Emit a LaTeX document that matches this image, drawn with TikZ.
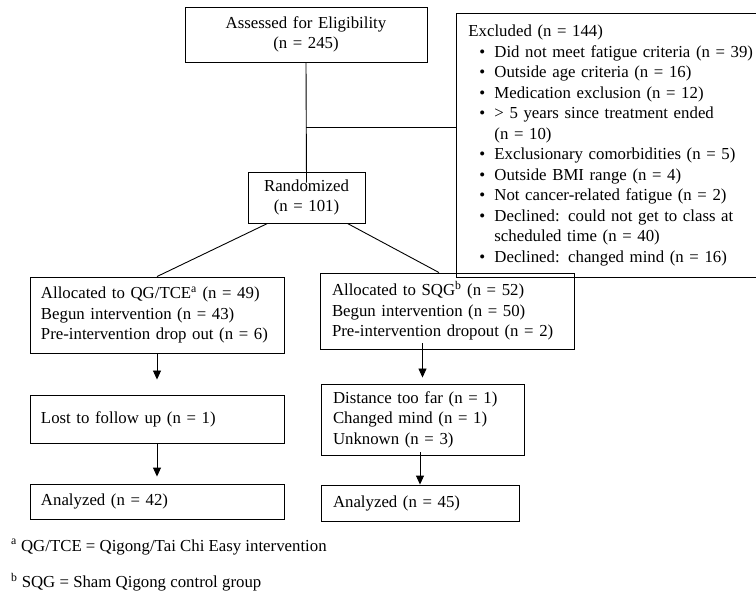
\documentclass[tikz,border=0pt]{standalone}
\usepackage{fontspec}
\setmainfont{Liberation Serif}
\usetikzlibrary{positioning,arrows.meta,calc}
\newcommand{\exitem}{\hspace*{11pt}\makebox[15pt][l]{\textbullet}}
\newcommand{\exmore}{\hspace*{26pt}}

\begin{document}
\begin{tikzpicture}[x=1pt,y=-1pt,font=\fontsize{16.8}{20.5}\selectfont,
  box/.style={draw,line width=0.9pt,align=left,inner xsep=11pt,inner ysep=0pt},
  cbox/.style={box,align=center},
  arr/.style={draw,line width=0.9pt,-{Triangle[width=8pt,length=9pt]}},
  link/.style={draw,line width=0.9pt}]
\useasboundingbox (0,0) rectangle (756,596);
\clip (0,0) rectangle (756,596);
\node[cbox,text width=220pt,minimum height=55pt] (assess) at (306,34.5) {Assessed for Eligibility\\(n = 245)};
\node[cbox,text width=95pt,minimum height=51pt] (rand) at (306.5,197.5) {Randomized\\(n = 101)};
\node[box,anchor=north west,inner xsep=12pt,text width=292pt,minimum height=264pt] (excl) at (456,13)
  {Excluded (n = 144)\\
   \exitem Did not meet fatigue criteria (n = 39)\\
   \exitem Outside age criteria (n = 16)\\
   \exitem Medication exclusion (n = 12)\\
   \exitem > 5 years since treatment ended\\
   \exmore (n = 10)\\
   \exitem Exclusionary comorbidities (n = 5)\\
   \exitem Outside BMI range (n = 4)\\
   \exitem Not cancer-related fatigue (n = 2)\\
   \exitem Declined: could not get to class at\\
   \exmore scheduled time (n = 40)\\
   \exitem Declined: changed mind (n = 16)};
% left arm
\node[box,text width=232pt,minimum height=76pt] (allocq) at (157,315) {Allocated to QG/TCE\textsuperscript{a} (n = 49)\\Begun intervention (n = 43)\\Pre-intervention drop out (n = 6)};
\node[box,text width=232pt,minimum height=48pt] (lostq) at (157,419) {Lost to follow up (n = 1)};
\node[box,text width=232pt,minimum height=35pt] (anaq) at (157,501.5) {Analyzed (n = 42)};
% right arm
\node[box,inner xsep=12pt,text width=230pt,minimum height=76pt] (allocs) at (447,311) {Allocated to SQG\textsuperscript{b} (n = 52)\\Begun intervention (n = 50)\\Pre-intervention dropout (n = 2)};
\node[box,inner xsep=12pt,text width=179pt,minimum height=71pt] (dists) at (422.5,419.5) {Distance too far (n = 1)\\Changed mind (n = 1)\\Unknown (n = 3)};
\node[box,inner xsep=12pt,text width=174pt,minimum height=36pt] (anas) at (420,503) {Analyzed (n = 45)};
% notes
\node[anchor=west,inner sep=0pt] (notea) at (11,547) {\textsuperscript{a} QG/TCE = Qigong/Tai Chi Easy intervention};
\node[anchor=west,inner sep=0pt] (noteb) at (11,582) {\textsuperscript{b} SQG = Sham Qigong control group};
% connectors
\coordinate (jn) at (306,127);
\draw[link] (assess.south) -- ([yshift=-11pt]rand.north);
\draw[link] (jn) -- (jn -| excl.west);
\draw[link] ([xshift=20pt]rand.south west) -- (allocq.north);
\draw[link] ([xshift=-18pt]rand.south east) -- ([xshift=-8pt]allocs.north);
\draw[arr,shorten >=15pt] (allocq) -- (lostq);
\draw[arr,shorten >=7pt] (lostq) -- (anaq);
\draw[arr,shorten >=6pt] ([yshift=6pt]allocs.south -| dists.north) -- (dists.north);
\draw[arr] ([yshift=3pt]dists.south -| anas.north) -- (anas.north);
\end{tikzpicture}
\end{document}
